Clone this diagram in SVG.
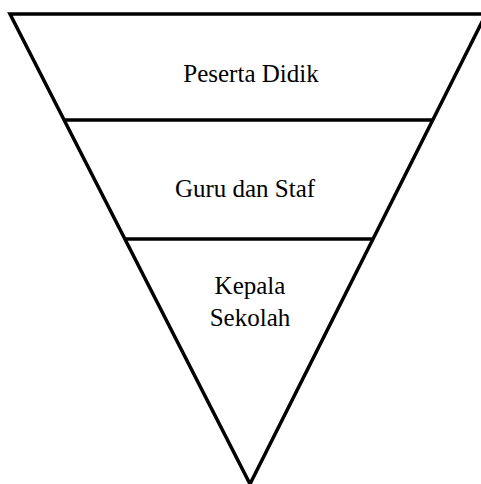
<svg xmlns="http://www.w3.org/2000/svg" width="481" height="484" viewBox="0 0 481 484">
<style>
.edge{stroke:#000;stroke-width:3.5;fill:none;stroke-linejoin:miter}
.lbl{font-family:"Liberation Serif","Times New Roman",serif;font-size:25px;fill:#000;text-anchor:middle}
</style>
<rect width="481" height="484" fill="#fff"/>
<g id="connectors">
<polygon class="edge" points="10,14 486,14 250,484"/>
<line class="edge" x1="63" y1="120" x2="433" y2="120"/>
<line class="edge" x1="124" y1="239" x2="373" y2="239"/>
</g>
<g id="node-peserta-didik"><text class="lbl" x="251" y="82">Peserta Didik</text></g>
<g id="node-guru-dan-staf"><text class="lbl" x="245" y="197">Guru dan Staf</text></g>
<g id="node-kepala-sekolah"><text class="lbl" x="250" y="294">Kepala</text><text class="lbl" x="250" y="326">Sekolah</text></g>
</svg>
